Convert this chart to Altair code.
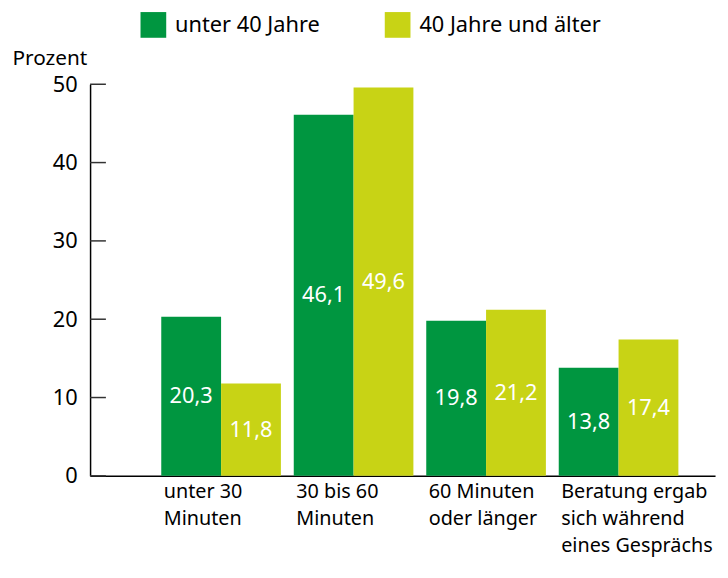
import altair as alt
import pandas as pd

categories = ["unter 30|Minuten", "30 bis 60|Minuten", "60 Minuten|oder länger",
              "Beratung ergab|sich während|eines Gesprächs"]
groups = ["unter 40 Jahre", "40 Jahre und älter"]
under40 = [20.3, 46.1, 19.8, 13.8]
over40 = [11.8, 49.6, 21.2, 17.4]
y_ticks = [0, 10, 20, 30, 40, 50]

GREEN = "#009640"
YELLOW = "#C8D315"
FONT = "Noto Sans"

rows = []
for c, a, b in zip(categories, under40, over40):
    rows.append({"cat": c, "group": groups[0], "value": a})
    rows.append({"cat": c, "group": groups[1], "value": b})
df = pd.DataFrame(rows)
ticks_df = pd.DataFrame({"value": y_ticks})

x_enc = alt.X(
    "cat:N", sort=categories,
    scale=alt.Scale(paddingInner=0.097, paddingOuter=0.407, align=0.66),
    axis=alt.Axis(title=None, labelExpr="split(datum.label, '|')", labelAlign="left",
                  labelOffset=-58, labelBaseline="top", labelPadding=6,
                  labelLineHeight=27.5, labelFontSize=20, labelFont=FONT,
                  labelColor="black", ticks=False, domainColor="black",
                  domainWidth=1.5, labelAngle=0, labelLimit=0),
)
xoff_enc = alt.XOffset("group:N", sort=groups,
                       scale=alt.Scale(paddingInner=0, paddingOuter=0))
y_axis = alt.Axis(values=y_ticks, tickSize=0, grid=False, labelFontSize=22,
                  labelFont=FONT, labelColor="black", labelPadding=13,
                  domainColor="black", domainWidth=1.5,
                  title="Prozent", titleAngle=0, titleAlign="left",
                  titleBaseline="alphabetic", titleX=-79, titleY=-20,
                  titleFontSize=21, titleFontWeight="normal", titleFont=FONT,
                  titleColor="black")
y_scale = alt.Scale(domain=[0, 50], nice=False)

base = alt.Chart(df)

bars = base.mark_bar().encode(
    x=x_enc,
    xOffset=xoff_enc,
    y=alt.Y("value:Q", scale=y_scale, axis=y_axis),
    color=alt.Color("group:N", sort=groups,
                    scale=alt.Scale(domain=groups, range=[GREEN, YELLOW]),
                    legend=alt.Legend(orient="none", legendX=51, legendY=-73,
                                      direction="horizontal", title=None,
                                      symbolType="square", symbolSize=676,
                                      symbolStrokeWidth=0, symbolOpacity=1,
                                      labelFontSize=22, labelFont=FONT,
                                      labelColor="black", labelOffset=9,
                                      labelLimit=0,
                                      columnPadding=65, padding=0)),
)

labels = base.transform_calculate(
    mid="datum.value / 2",
    lbl="replace(format(datum.value, '.1f'), '.', ',')",
).mark_text(color="white", fontSize=22, font=FONT, baseline="middle", align="center").encode(
    x=x_enc,
    xOffset=xoff_enc,
    y=alt.Y("mid:Q", scale=y_scale, axis=y_axis),
    text="lbl:N",
)

tick_marks = alt.Chart(ticks_df).mark_rule(color="#333333", strokeWidth=1.5).encode(
    y=alt.Y("value:Q", scale=y_scale, axis=y_axis),
    x=alt.value(0),
    x2=alt.value(16),
)

chart = alt.layer(bars, labels, tick_marks).properties(
    width=632, height=396,
    autosize=alt.AutoSizeParams(type="none"),
    padding={"left": 83, "top": 74, "right": 5, "bottom": 84},
).configure_view(stroke=None)

chart.save("out.html", embed_options={"renderer": "svg", "actions": False})
